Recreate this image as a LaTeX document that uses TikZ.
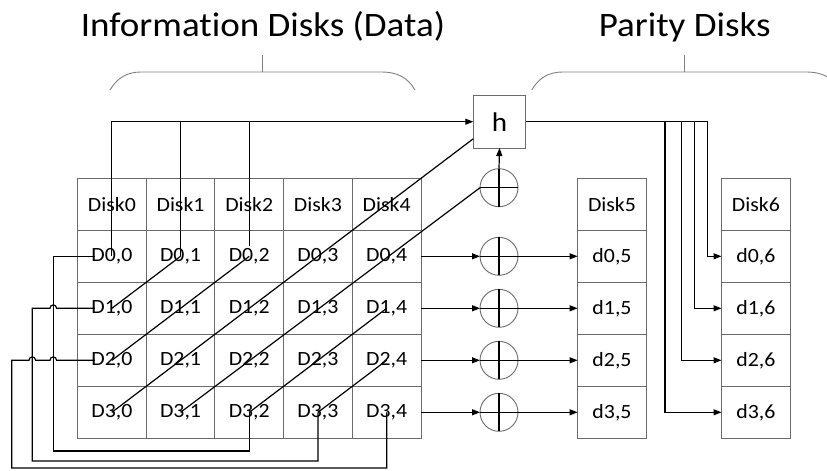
\documentclass[tikz,border=0pt]{standalone}
\usepackage{fontspec}
\setmainfont{Carlito}[Ligatures=NoCommon, FakeStretch=1.08]
\usetikzlibrary{arrows.meta,calc}
\definecolor{boxgray}{gray}{0.42}
\definecolor{bracegray}{gray}{0.5}

\begin{document}
\begin{tikzpicture}[x=1pt,y=-1pt,
  cell/.style={draw=boxgray, line width=0.9pt, minimum width=68.7pt, minimum height=52pt,
               inner sep=0pt, outer sep=0pt, font=\fontsize{20.2}{23}\selectfont},
  wire/.style={line width=1.2pt, black},
  arr/.style={wire, -{Triangle[length=8pt,width=6pt]}},
  xorc/.style={circle, draw=boxgray, line width=0.9pt, minimum size=38pt, inner sep=0pt, outer sep=0pt},
  hashbox/.style={draw=boxgray, line width=0.9pt, minimum width=52.4pt, minimum height=52.7pt,
                  inner sep=0pt, outer sep=0pt, font=\fontsize{27}{30}\selectfont},
  title/.style={font=\fontsize{34.3}{40}\selectfont, anchor=base},
  brace/.style={line width=0.9pt, bracegray}
]
\useasboundingbox (0,0) rectangle (827,471);

% titles and braces
\node[title] (tdata) at (263,36.7) {Information Disks (Data)};
\node[title] (tpar) at (684.7,36.7) {Parity Disks};
\draw[brace] (110,90) .. controls (117,78) and (127,72) .. (141,72) -- (381,72)
             .. controls (398,72) and (408,78) .. (415,90);
\draw[brace] (262.7,72) -- (262.7,55);
\draw[brace] (531.7,90) .. controls (538.7,78) and (548.7,72) .. (562.7,72) -- (806,72)
             .. controls (823,72) and (833,78) .. (840,90);
\draw[brace] (684.3,72) -- (684.3,55);

% data disks
\foreach \c in {0,...,4} {
  \node[cell] (hd\c) at ({111.85+68.7*\c},204.3) {Disk\c};
  \foreach \r in {0,...,3}
    \node[cell] (d\r\c) at ({111.85+68.7*\c},{256.3+52*\r}) {D\r,\c};
}
% parity disks
\node[cell] (hd5) at (612,204.3) {Disk5};
\node[cell] (hd6) at (755.85,204.3) {Disk6};
\foreach \r in {0,...,3} {
  \node[cell] (p\r) at (612,{256.3+52*\r}) {d\r,5};
  \node[cell] (q\r) at (755.85,{256.3+52*\r}) {d\r,6};
}

% hash box and xor gates
\node[hashbox] (h) at (499.5,121.7) {h};
\node[xorc] (xt) at (499,187.7) {};
\foreach \r in {0,...,3}
  \node[xorc] (x\r) at (499,{256.3+52*\r}) {};
\foreach \n in {xt,x0,x1,x2,x3} {
  \draw[wire] (\n.north) -- (\n.south);
  \draw[wire] (\n.west) -- (\n.east);
}

% row parity
\foreach \r in {0,...,3} {
  \draw[arr] (d\r4.east) -- (x\r.west);
  \draw[arr] (x\r.east) -- (p\r.west);
}

% top collector line into h
\draw[arr] (d00.center) |- (h.west);
\draw[wire] (d01.center) -- (d01.center |- h.west);
\draw[wire] ($(d02.center)+(0,-10)$) -- (d02.center |- h.west);

% diagonals
\draw[wire] (d10.center) -- (d01.center);
\draw[wire] (d20.center) -- (d02.center);
\draw[wire] (d30.center) -- ($(h.south west)+(0,-9.3)$);
\draw[wire] (d31.center) -- (xt.west);
\draw[wire] (d32.center) -- (d14.center);
\draw[wire] (d33.center) -- (d24.center);
\draw[arr] (xt.north) -- (h.south);

% wrap-around rails
\coordinate (r0) at (53.3,451);
\coordinate (r1) at (32.3,461);
\coordinate (r2) at (11.7,468);
\draw[wire] (d32.center) |- (r0) |- ($(d00.center)+(-17,0)$);
\draw[wire] (d33.center) |- (r1) -- (r1 |- d10.center)
  -- ($(r0 |- d10.center)+(-3.3,0)$)
  .. controls +(0,-4.5) and +(0,-4.5) .. ($(r0 |- d10.center)+(3.3,0)$)
  -- ($(d10.center)+(-17,0)$);
\draw[wire] (d34.center) |- (r2) -- (r2 |- d20.center)
  -- ($(r1 |- d20.center)+(-3.3,0)$)
  .. controls +(0,-4.5) and +(0,-4.5) .. ($(r1 |- d20.center)+(3.3,0)$)
  -- ($(r0 |- d20.center)+(-3.3,0)$)
  .. controls +(0,-4.5) and +(0,-4.5) .. ($(r0 |- d20.center)+(3.3,0)$)
  -- ($(d20.center)+(-17,0)$);

% diagonal parity outputs
\coordinate (t0) at (707.7,122);
\coordinate (t1) at (694.3,122);
\coordinate (t2) at (681.7,122);
\coordinate (t3) at (665,122);
\draw[wire] (h.east) -- (t0 |- h.east);
\foreach \r in {0,...,3}
  \draw[arr] (t\r |- h.east) |- (q\r.west);
\end{tikzpicture}
\end{document}
